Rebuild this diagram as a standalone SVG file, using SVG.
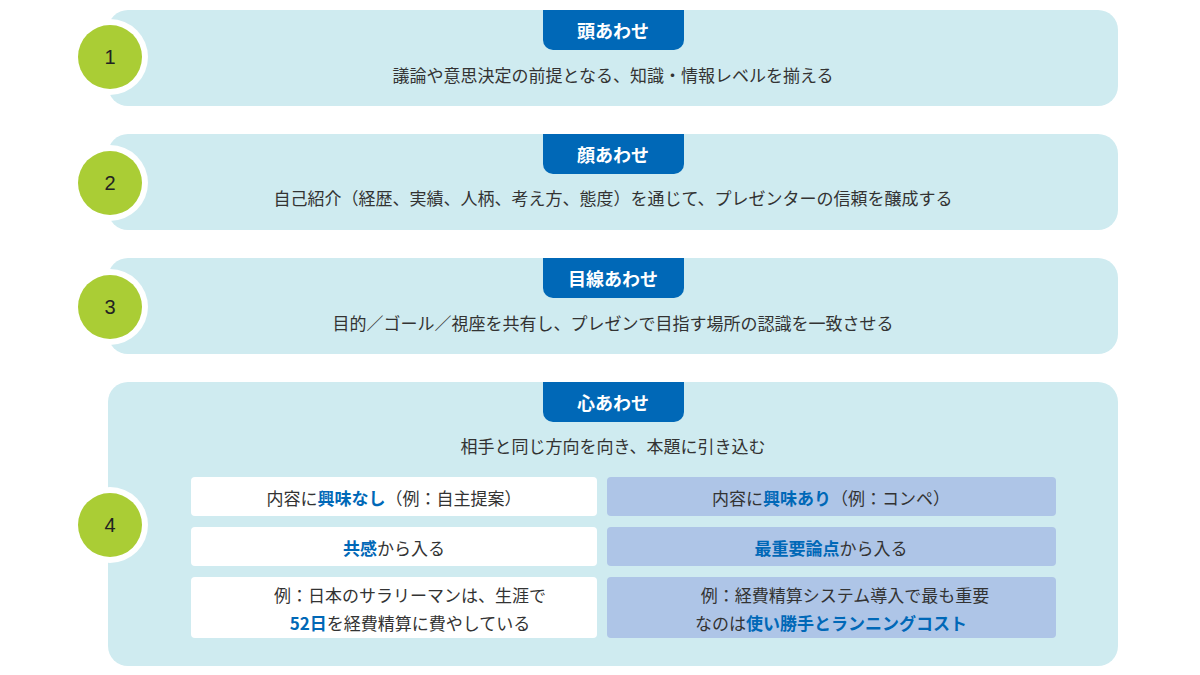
<svg xmlns="http://www.w3.org/2000/svg" width="1200" height="675" viewBox="0 0 1200 675">
<defs><style>
.panel{fill:#cfebf0}
.halo{fill:#ffffff}
.num{fill:#aacd35}
.numt{font:20px "Liberation Sans",sans-serif;fill:#222;text-anchor:middle;dominant-baseline:central}
.badge{fill:#0068b7}
.bt{font:bold 18px "Noto Sans CJK JP",sans-serif;fill:#fff;text-anchor:middle;dominant-baseline:central}
.t{font:17px "Noto Sans CJK JP",sans-serif;fill:#333;text-anchor:middle;dominant-baseline:central}
.b{fill:#0068b7;font-weight:bold}
.wb{fill:#fff}
.bb{fill:#aec5e7}
</style></defs>
<rect width="1200" height="675" fill="#fff"/>
<g id="step1">
<rect class="panel" x="108" y="10" width="1010" height="96" rx="20"/>
<circle class="halo" cx="110" cy="57" r="38"/><circle class="num" cx="110" cy="57" r="32"/><text class="numt" x="110" y="57">1</text>
<path class="badge" d="M543 10H684V40a10 10 0 0 1-10 10H553a10 10 0 0 1-10-10Z"/><text class="bt" x="613" y="30">頭あわせ</text>
<text class="t" x="613" y="74">議論や意思決定の前提となる、知識・情報レベルを揃える</text>
</g>
<g id="step2">
<rect class="panel" x="108" y="134" width="1010" height="96" rx="20"/>
<circle class="halo" cx="110" cy="183" r="38"/><circle class="num" cx="110" cy="183" r="32"/><text class="numt" x="110" y="183">2</text>
<path class="badge" d="M543 134H684V164a10 10 0 0 1-10 10H553a10 10 0 0 1-10-10Z"/><text class="bt" x="613" y="154">顔あわせ</text>
<text class="t" x="613" y="197">自己紹介（経歴、実績、人柄、考え方、態度）を通じて、プレゼンターの信頼を醸成する</text>
</g>
<g id="step3">
<rect class="panel" x="108" y="258" width="1010" height="96" rx="20"/>
<circle class="halo" cx="110" cy="307" r="38"/><circle class="num" cx="110" cy="307" r="32"/><text class="numt" x="110" y="307">3</text>
<path class="badge" d="M543 258H684V288a10 10 0 0 1-10 10H553a10 10 0 0 1-10-10Z"/><text class="bt" x="613" y="278">目線あわせ</text>
<text class="t" x="613" y="322">目的／ゴール／視座を共有し、プレゼンで目指す場所の認識を一致させる</text>
</g>
<g id="step4">
<rect class="panel" x="108" y="382" width="1010" height="284" rx="20"/>
<circle class="halo" cx="110" cy="525" r="38"/><circle class="num" cx="110" cy="525" r="32"/><text class="numt" x="110" y="525">4</text>
<path class="badge" d="M543 382H684V412a10 10 0 0 1-10 10H553a10 10 0 0 1-10-10Z"/><text class="bt" x="613" y="402">心あわせ</text>
<text class="t" x="613" y="445">相手と同じ方向を向き、本題に引き込む</text>
<rect class="wb" x="191" y="477" width="406" height="39" rx="4"/>
<rect class="bb" x="607" y="477" width="449" height="39" rx="4"/>
<rect class="wb" x="191" y="527" width="406" height="39" rx="4"/>
<rect class="bb" x="607" y="527" width="449" height="39" rx="4"/>
<rect class="wb" x="191" y="577" width="406" height="61" rx="4"/>
<rect class="bb" x="607" y="577" width="449" height="61" rx="4"/>
<text class="t" x="394" y="497">内容に<tspan class="b">興味なし</tspan>（例：自主提案）</text>
<text class="t" x="831" y="497">内容に<tspan class="b">興味あり</tspan>（例：コンペ）</text>
<text class="t" x="394" y="547"><tspan class="b">共感</tspan>から入る</text>
<text class="t" x="831" y="547"><tspan class="b">最重要論点</tspan>から入る</text>
<text class="t" x="410" y="594">例：日本のサラリーマンは、生涯で</text>
<text class="t" x="410" y="622"><tspan class="b">52日</tspan>を経費精算に費やしている</text>
<text class="t" x="845" y="594">例：経費精算システム導入で最も重要</text>
<text class="t" x="831" y="622">なのは<tspan class="b">使い勝手とランニングコスト</tspan></text>
</g>
<g id="connectors"/>
</svg>
